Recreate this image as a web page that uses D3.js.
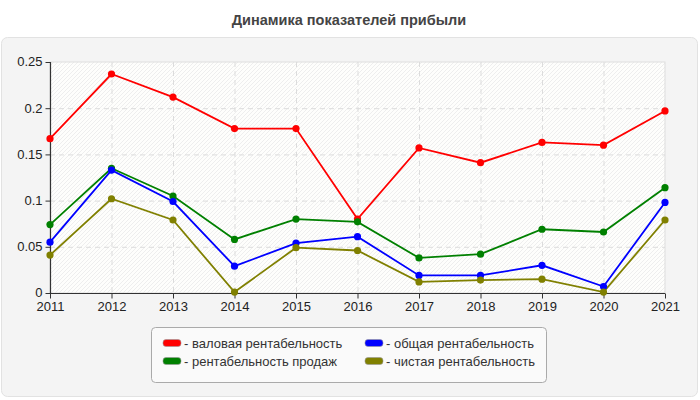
<!DOCTYPE html>
<html><head><meta charset="utf-8">
<script src="https://cdn.jsdelivr.net/npm/d3@7"></script>
<style>body{margin:0;background:#fff;font-family:"Liberation Sans",Arial,sans-serif}</style>
</head><body>
<svg id="c" width="700" height="400"></svg>
<script>
const years = [2011, 2012, 2013, 2014, 2015, 2016, 2017, 2018, 2019, 2020, 2021];
const grossMargin = [0.167, 0.237, 0.212, 0.178, 0.178, 0.080, 0.157, 0.141, 0.163, 0.160, 0.197];
const salesMargin = [0.074, 0.135, 0.105, 0.058, 0.080, 0.077, 0.038, 0.042, 0.069, 0.066, 0.114];
const totalMargin = [0.055, 0.133, 0.099, 0.029, 0.054, 0.061, 0.019, 0.019, 0.030, 0.007, 0.098];
const netMargin = [0.041, 0.102, 0.079, 0.001, 0.049, 0.046, 0.012, 0.014, 0.015, 0.001, 0.079];
const yTicks = [0, 0.05, 0.1, 0.15, 0.2, 0.25];
const yTickLabels = ["0", "0.05", "0.1", "0.15", "0.2", "0.25"];
const seriesNames = ["валовая рентабельность", "рентабельность продаж", "общая рентабельность", "чистая рентабельность"];
const seriesColors = ["#ff0000", "#008000", "#0000ff", "#808000"];
const title = "Динамика показателей прибыли";

const series = [
  {name: seriesNames[0], color: seriesColors[0], values: grossMargin},
  {name: seriesNames[1], color: seriesColors[1], values: salesMargin},
  {name: seriesNames[2], color: seriesColors[2], values: totalMargin},
  {name: seriesNames[3], color: seriesColors[3], values: netMargin}
];

const svg = d3.select("#c");
const defs = svg.append("defs");
const pat = defs.append("pattern").attr("id","hatch").attr("patternUnits","userSpaceOnUse")
  .attr("width",4).attr("height",4);
pat.append("rect").attr("width",4).attr("height",4).attr("fill","#fefefc");
pat.append("path").attr("d","M-1,1 l2,-2 M0,4 l4,-4 M3,5 l2,-2").attr("stroke","#eeeeee").attr("stroke-width",1);

// panel
svg.append("rect").attr("x",1.5).attr("y",37.5).attr("width",696).attr("height",359)
  .attr("rx",6).attr("fill","#f4f4f4").attr("stroke","#e2e2e2");

svg.append("text").attr("x",349).attr("y",25).attr("text-anchor","middle")
  .attr("font-size",14.5).attr("font-weight","bold").attr("fill","#444").text(title);

const x = d3.scaleLinear().domain([years[0], years[years.length-1]]).range([50, 665]);
const y = d3.scaleLinear().domain([0, 0.25]).range([293, 62]);

// plot bg
svg.append("rect").attr("x",50).attr("y",62).attr("width",615).attr("height",231)
  .attr("fill","url(#hatch)").attr("stroke","#dddddd");

// grid
const g = svg.append("g");
g.selectAll(".hg").data(yTicks.slice(1,-1)).join("line")
  .attr("x1",50).attr("x2",665).attr("y1",d=>y(d)+0.5).attr("y2",d=>y(d)+0.5)
  .attr("stroke","#dcdcdc").attr("stroke-dasharray","5,4");
g.selectAll(".vg").data(years.slice(1,-1)).join("line")
  .attr("x1",d=>x(d)+0.5).attr("x2",d=>x(d)+0.5).attr("y1",62).attr("y2",293)
  .attr("stroke","#dcdcdc").attr("stroke-dasharray","5,4");

// axes
const yAxis = d3.axisLeft(y).tickValues(yTicks).tickFormat((d,i)=>yTickLabels[i]).tickSize(5).tickPadding(3);
const ya = svg.append("g").attr("transform","translate(50.5,0)").call(yAxis);
const xAxis = d3.axisBottom(x).tickValues(years).tickFormat(d3.format("d")).tickSize(5).tickPadding(2);
const xa = svg.append("g").attr("transform","translate(0,293.5)").call(xAxis);
[ya, xa].forEach(a=>{
  a.select(".domain").attr("stroke","#333").attr("stroke-width",1.2);
  a.selectAll(".tick line").attr("stroke","#333");
  a.selectAll("text").attr("font-size",13).attr("fill","#222").attr("font-family","'Liberation Sans',Arial,sans-serif");
});
ya.selectAll("text").attr("dy","0.3em");
xa.selectAll("text").attr("dy","0.8em");
xa.select(".domain").attr("d","M50,0H665");
ya.select(".domain").attr("d","M0,62V293");

// lines
const line = d3.line().x((d,i)=>x(years[i])).y(d=>y(d));
const sg = svg.append("g");
series.forEach(s=>{
  sg.append("path").attr("d",line(s.values)).attr("fill","none").attr("stroke",s.color).attr("stroke-width",1.8);
});
series.forEach(s=>{
  sg.selectAll(null).data(s.values).join("circle")
    .attr("cx",(d,i)=>x(years[i])).attr("cy",d=>y(d)).attr("r",3.6).attr("fill",s.color);
});

// legend
svg.append("rect").attr("x",151.5).attr("y",327.5).attr("width",395).attr("height",55)
  .attr("rx",4).attr("fill","#fafafa").attr("stroke","#aaaaaa");
const legendOrder = [0,2,1,3];
const lpos = [[163,343],[365,343],[163,361],[365,361]];
legendOrder.forEach((si,k)=>{
  const s = series[si];
  const [lx,ly] = lpos[k];
  svg.append("rect").attr("x",lx).attr("y",ly-3.5).attr("width",18).attr("height",7).attr("rx",3)
    .attr("fill",s.color).attr("stroke","#999").attr("stroke-width",0.6);
  svg.append("text").attr("x",lx+21).attr("y",ly+4.5).attr("font-size",13).attr("fill","#333")
    .text("- " + s.name);
});
</script>
</body></html>
